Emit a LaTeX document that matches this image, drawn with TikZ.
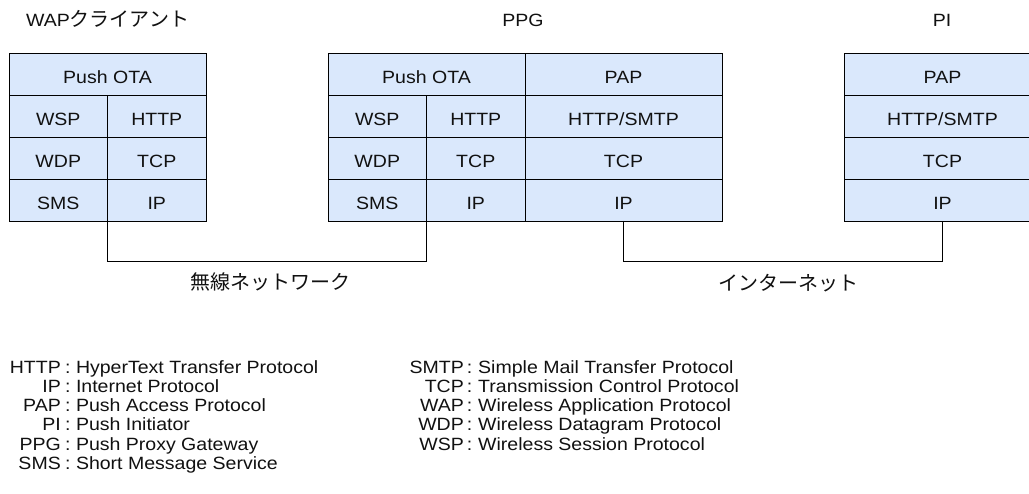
\documentclass[tikz,border=0pt]{standalone}
\usepackage{fontspec}
\setmainfont{Liberation Sans}[FakeStretch=1.1]
\newfontfamily\cjk{Noto Sans CJK JP}
\definecolor{cellblue}{HTML}{DAE8FC}
\definecolor{ink}{HTML}{111111}
\begin{document}
\begin{tikzpicture}[x=1pt,y=-1pt,
  cell/.style={draw=black, fill=cellblue, line width=0.9pt, minimum height=42pt,
    inner sep=0pt, outer sep=0pt, text height=19pt, text depth=0pt, text=ink,
    font=\fontsize{17.75}{20}\selectfont, anchor=center},
  lbl/.style={inner sep=0pt, text=ink, font=\fontsize{17.75}{20}\selectfont},
  jp/.style={inner sep=0pt, text=ink, font=\cjk\fontsize{20}{22}\selectfont},
  link/.style={draw=black, line width=0.9pt}]
\useasboundingbox (0,0) rectangle (1029,494);
\clip (0,0) rectangle (1029,494);
\fill[white] (0,0) rectangle (1029,494);

% ---- WAP client stack
\node[cell, minimum width=197pt]  (a1)  at (107.5,74)  {Push OTA};
\node[cell, minimum width=98.5pt] (a2l) at (58.25,116) {WSP};
\node[cell, minimum width=98.5pt] (a2r) at (156.75,116) {HTTP};
\node[cell, minimum width=98.5pt] (a3l) at (58.25,158) {WDP};
\node[cell, minimum width=98.5pt] (a3r) at (156.75,158) {TCP};
\node[cell, minimum width=98.5pt] (a4l) at (58.25,200) {SMS};
\node[cell, minimum width=98.5pt] (a4r) at (156.75,200) {IP};

% ---- PPG stack
\node[cell, minimum width=197pt]  (b1l) at (426.5,74)  {Push OTA};
\node[cell, minimum width=197pt]  (b1r) at (623.5,74)  {PAP};
\node[cell, minimum width=98.5pt] (b2l) at (377.25,116) {WSP};
\node[cell, minimum width=98.5pt] (b2m) at (475.75,116) {HTTP};
\node[cell, minimum width=197pt]  (b2r) at (623.5,116) {HTTP/SMTP};
\node[cell, minimum width=98.5pt] (b3l) at (377.25,158) {WDP};
\node[cell, minimum width=98.5pt] (b3m) at (475.75,158) {TCP};
\node[cell, minimum width=197pt]  (b3r) at (623.5,158) {TCP};
\node[cell, minimum width=98.5pt] (b4l) at (377.25,200) {SMS};
\node[cell, minimum width=98.5pt] (b4m) at (475.75,200) {IP};
\node[cell, minimum width=197pt]  (b4r) at (623.5,200) {IP};

% ---- PI stack
\node[cell, minimum width=197pt] (c1) at (942.5,74)  {PAP};
\node[cell, minimum width=197pt] (c2) at (942.5,116) {HTTP/SMTP};
\node[cell, minimum width=197pt] (c3) at (942.5,158) {TCP};
\node[cell, minimum width=197pt] (c4) at (942.5,200) {IP};

% ---- titles
\node[lbl, anchor=base west] (t1) at (26,27) {WAP{\cjk\fontsize{20}{22}\selectfont クライアント}};
\node[lbl, anchor=base] (t2) at (523,27) {PPG};
\node[lbl, anchor=base] (t3) at (942,27) {PI};

% ---- connectors
\draw[link] (a4l.south east) -- ++(0,40) -| (b4l.south east);
\draw[link] (b4r.south) -- ++(0,40) -| (c4.south);
\node[jp] (n1) at (270,282) {無線ネットワーク};
\node[jp] (n2) at (788,283) {インターネット};

% ---- legend
\foreach \ab/\ds [count=\i from 0] in {HTTP/HyperText Transfer Protocol,
    IP/Internet Protocol, PAP/Push Access Protocol, PI/Push Initiator,
    PPG/Push Proxy Gateway, SMS/Short Message Service}{
  \node[lbl, anchor=base east] (la\i) at (61,{373.3+19.2*\i}) {\ab};
  \node[lbl, anchor=base west] (lc\i) at (65,{373.3+19.2*\i}) {:};
  \node[lbl, anchor=base west] (ld\i) at (75.8,{373.3+19.2*\i}) {\ds};
}
\foreach \ab/\ds [count=\i from 0] in {SMTP/Simple Mail Transfer Protocol,
    TCP/Transmission Control Protocol, WAP/Wireless Application Protocol,
    WDP/Wireless Datagram Protocol, WSP/Wireless Session Protocol}{
  \node[lbl, anchor=base east] (ra\i) at (464,{373.3+19.2*\i}) {\ab};
  \node[lbl, anchor=base west] (rc\i) at (466.6,{373.3+19.2*\i}) {:};
  \node[lbl, anchor=base west] (rd\i) at (478,{373.3+19.2*\i}) {\ds};
}
\end{tikzpicture}
\end{document}
